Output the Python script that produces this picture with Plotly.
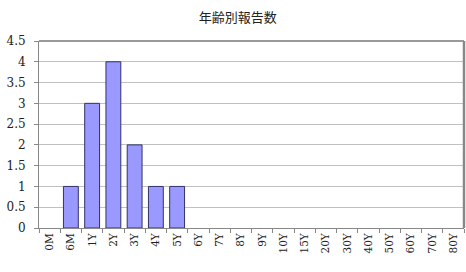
import plotly.graph_objects as go

categories = ["0M", "6M", "1Y", "2Y", "3Y", "4Y", "5Y", "6Y", "7Y", "8Y", "9Y",
              "10Y", "15Y", "20Y", "30Y", "40Y", "50Y", "60Y", "70Y", "80Y"]
counts = [0, 1, 3, 4, 2, 1, 1, 0, 0, 0, 0, 0, 0, 0, 0, 0, 0, 0, 0, 0]
y_ticks = [0, 0.5, 1, 1.5, 2, 2.5, 3, 3.5, 4, 4.5]
y_tick_labels = ["0", "0.5", "1", "1.5", "2", "2.5", "3", "3.5", "4", "4.5"]
title = "年齢別報告数"

line_widths = [1 if c > 0 else 0 for c in counts]

fig = go.Figure(go.Bar(
    x=categories, y=counts,
    marker=dict(color="#9999FF", line=dict(color="#333366", width=line_widths)),
    width=0.7,
))

serif = "DejaVu Serif, Liberation Serif, serif"

fig.update_layout(
    width=466, height=272,
    margin=dict(l=39, r=2, t=41, b=44),
    paper_bgcolor="white", plot_bgcolor="white",
    showlegend=False,
    title=dict(text=title, x=0.51, xanchor="center", y=0.9375, yanchor="middle",
               font=dict(family="Noto Sans CJK JP", size=13, color="#222")),
    xaxis=dict(
        type="category", tickangle=-90, tickson="boundaries",
        ticks="outside", ticklen=4, tickcolor="#888",
        showline=True, linecolor="#888", linewidth=1,
        mirror=False, showgrid=False,
        tickfont=dict(family=serif, size=10.5, color="#222"),
        range=[-0.5, len(categories) - 0.5],
    ),
    yaxis=dict(
        range=[0, 4.5], tickvals=y_ticks, ticktext=y_tick_labels,
        ticks="outside", ticklen=4, tickcolor="#888",
        showline=True, linecolor="#888", linewidth=1,
        showgrid=True, gridcolor="#c0c0c0", gridwidth=1,
        tickfont=dict(family=serif, size=12, color="#222"),
        ticklabelstandoff=6,
        zeroline=False,
    ),
    shapes=[
        dict(type="line", xref="paper", yref="paper", x0=0, x1=1, y0=1, y1=1,
             line=dict(color="#777", width=1.5)),
        dict(type="line", xref="paper", yref="paper", x0=1, x1=1, y0=0, y1=1,
             line=dict(color="#888", width=2.5)),
    ],
)

fig.write_html("out.html")
